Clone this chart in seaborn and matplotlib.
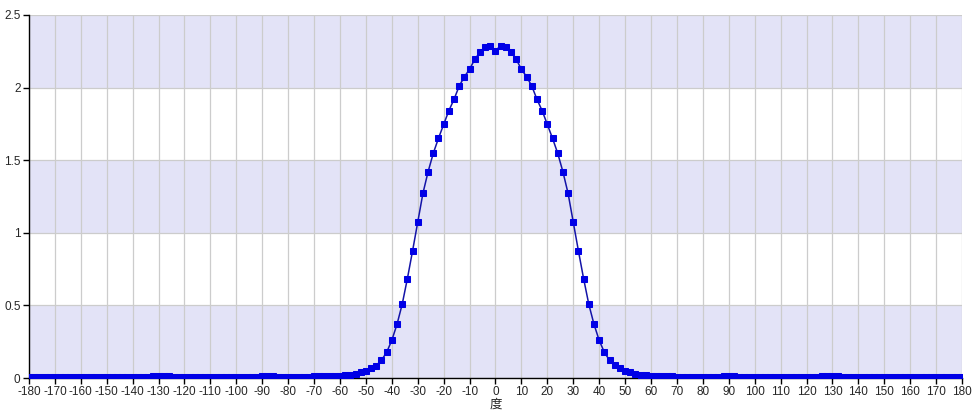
import numpy as np
import pandas as pd
import matplotlib.pyplot as plt
import seaborn as sns

# 角度 (度), 每 2 度一个点
angles = list(range(-180, 181, 2))

# 读图估计的数值, 从 -180 到 180
left_tail = [0.005, 0.005, 0.005, 0.006, 0.006, 0.006, 0.006, 0.006, 0.006, 0.006,   # -180 .. -162
             0.006, 0.006, 0.006, 0.006, 0.006, 0.006, 0.006, 0.006, 0.006, 0.006,   # -160 .. -142
             0.006, 0.006, 0.007, 0.008, 0.012, 0.016, 0.017, 0.013, 0.010, 0.008,   # -140 .. -122
             0.007, 0.006, 0.006, 0.006, 0.006, 0.006, 0.006, 0.006, 0.006, 0.006,   # -120 .. -102
             0.006, 0.006, 0.007, 0.008, 0.010, 0.012, 0.013, 0.011, 0.009, 0.008,   # -100 .. -82
             0.008, 0.008, 0.008, 0.009, 0.010, 0.011, 0.012, 0.013, 0.014, 0.015,   # -80 .. -62
             0.016]                                                                  # -60
peak = [0.018, 0.023, 0.030, 0.039, 0.050, 0.067, 0.086, 0.122, 0.177, 0.260,        # -58 .. -40
        0.370, 0.508, 0.684, 0.875, 1.074, 1.272, 1.421, 1.548, 1.651, 1.747,        # -38 .. -20
        1.841, 1.919, 2.011, 2.075, 2.126, 2.195, 2.243, 2.282, 2.288,               # -18 .. -2
        2.255,                                                                       # 0
        2.288, 2.282, 2.243, 2.195, 2.126, 2.075, 2.011, 1.919, 1.841,               # 2 .. 18
        1.747, 1.651, 1.548, 1.421, 1.272, 1.074, 0.875, 0.684, 0.508, 0.370,        # 20 .. 38
        0.260, 0.177, 0.122, 0.087, 0.067, 0.050, 0.039, 0.030, 0.023, 0.018]        # 40 .. 58
right_tail = [0.016, 0.014, 0.013, 0.012, 0.011, 0.010, 0.009, 0.008, 0.008, 0.008,  # 60 .. 78
              0.008, 0.008, 0.009, 0.010, 0.012, 0.013, 0.011, 0.009, 0.007, 0.006,  # 80 .. 98
              0.006, 0.006, 0.006, 0.006, 0.006, 0.006, 0.006, 0.006, 0.006, 0.006,  # 100 .. 118
              0.006, 0.007, 0.008, 0.011, 0.014, 0.015, 0.012, 0.009, 0.007, 0.006,  # 120 .. 138
              0.006, 0.006, 0.006, 0.006, 0.006, 0.006, 0.006, 0.006, 0.006, 0.006,  # 140 .. 158
              0.006, 0.006, 0.006, 0.006, 0.006, 0.006, 0.006, 0.006, 0.006, 0.005,  # 160 .. 178
              0.005]                                                                 # 180
values = left_tail + peak + right_tail

xticks = list(range(-180, 181, 10))
yticks = [0, 0.5, 1, 1.5, 2, 2.5]
ytick_labels = ['0', '0.5', '1', '1.5', '2', '2.5']
x_label = '度'

df = pd.DataFrame({'angle': angles, 'value': values})

sns.set_theme(style='white')
plt.rcParams['font.family'] = ['Liberation Sans', 'Noto Sans CJK SC', 'DejaVu Sans']

fig = plt.figure(figsize=(9.75, 4.13), dpi=100)
ax = fig.add_axes([0.0297, 0.0847, 0.9570, 0.8790])

# 交替底色条带
band_color = '#E3E3F7'
for lo in [0, 1, 2]:
    ax.axhspan(lo, lo + 0.5, color=band_color, zorder=0, lw=0)

sns.lineplot(data=df, x='angle', y='value', ax=ax, color='#1414A8', linewidth=1.1,
             marker='s', markersize=3.8, markerfacecolor='#0000E6',
             markeredgecolor='#0000E6', zorder=3)

ax.set_xlim(-180, 180)
ax.set_ylim(0, 2.5)
ax.set_xticks(xticks)
ax.set_xticklabels([str(t) for t in xticks], fontsize=8.5)
ax.set_yticks(yticks)
ax.set_yticklabels(ytick_labels, fontsize=8.5)
ax.grid(True, color='#CCCCCC', linewidth=0.9, zorder=1)
ax.set_axisbelow(True)

ax.set_xlabel(x_label, fontsize=9, labelpad=0)
ax.set_ylabel('')

for side in ['top', 'right']:
    ax.spines[side].set_visible(False)
for side in ['left', 'bottom']:
    ax.spines[side].set_color('black')
    ax.spines[side].set_linewidth(1.0)

ax.tick_params(axis='both', direction='out', length=4, width=1, color='black',
               pad=2, bottom=True, left=True)

fig.savefig('out.png', dpi=100)
